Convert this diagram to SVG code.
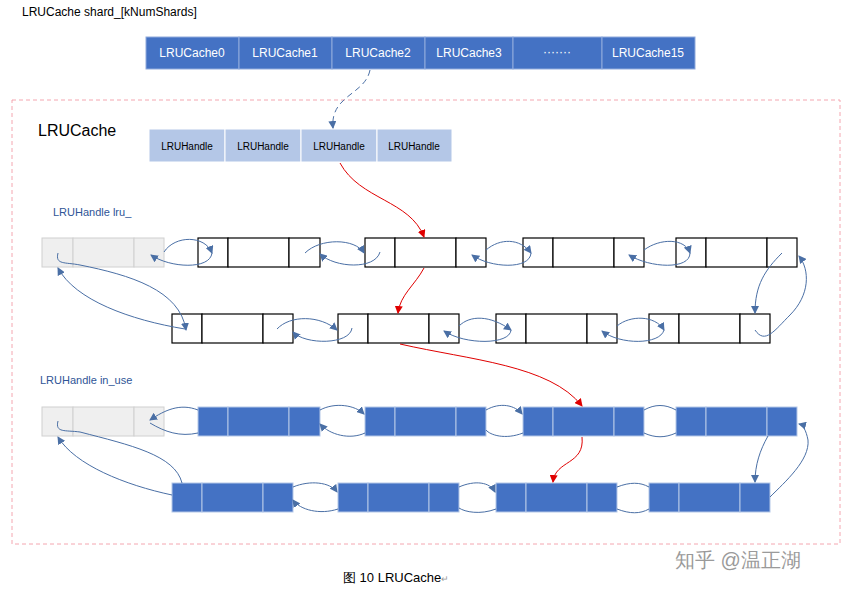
<svg xmlns="http://www.w3.org/2000/svg" width="854" height="593" viewBox="0 0 854 593">
<style>
text{font-family:"Liberation Sans",Arial,sans-serif}
.top{fill:#4472c4;stroke:#8faadc;stroke-width:1}
.tt{fill:#fff;font-size:12px;text-anchor:middle}
.h{fill:#b4c7e7;stroke:#fff}
.ht{fill:#000;font-size:10px;text-anchor:middle}
.g{fill:#efefef;stroke:#d0d0d0}
.w{fill:#fff;stroke:#000;stroke-width:1.2}
.b{fill:#4472c4;stroke:#b4c7e7;stroke-width:1}
.c{fill:none;stroke:#4a6fa5;stroke-width:1}
.r{fill:none;stroke:#e00000;stroke-width:1}
.lbl{fill:#2f5597;font-size:11px}
</style>
<defs>
<marker id="ab" markerWidth="8" markerHeight="8" refX="7" refY="4" orient="auto" markerUnits="userSpaceOnUse"><path d="M0,0L8,4L0,8z" fill="#4a6fa5"/></marker>
<marker id="ar" markerWidth="8" markerHeight="8" refX="7" refY="4" orient="auto" markerUnits="userSpaceOnUse"><path d="M0,0L8,4L0,8z" fill="#e00000"/></marker>
</defs>
<rect width="854" height="593" fill="#fff"/>
<text x="22" y="16" font-size="12">LRUCache shard_[kNumShards]</text>
<g id="shards">
<rect class="top" x="146" y="37" width="93" height="32"/><text class="tt" x="192" y="57">LRUCache0</text>
<rect class="top" x="239" y="37" width="93" height="32"/><text class="tt" x="285" y="57">LRUCache1</text>
<rect class="top" x="332" y="37" width="93" height="32"/><text class="tt" x="378" y="57">LRUCache2</text>
<rect class="top" x="425" y="37" width="88" height="32"/><text class="tt" x="469" y="57">LRUCache3</text>
<rect class="top" x="513" y="37" width="89" height="32"/><text class="tt" x="557" y="56">·······</text>
<rect class="top" x="602" y="37" width="93" height="32"/><text class="tt" x="648" y="57">LRUCache15</text>
</g>
<rect x="12" y="100" width="828" height="444" fill="none" stroke="#f4a6b0" stroke-dasharray="4,3"/>
<text x="38" y="136" font-size="16">LRUCache</text>
<g id="handles">
<rect class="h" x="149" y="129" width="76" height="33"/><text class="ht" x="187" y="150">LRUHandle</text>
<rect class="h" x="225" y="129" width="76" height="33"/><text class="ht" x="263" y="150">LRUHandle</text>
<rect class="h" x="301" y="129" width="76" height="33"/><text class="ht" x="339" y="150">LRUHandle</text>
<rect class="h" x="377" y="129" width="75" height="33"/><text class="ht" x="414" y="150">LRUHandle</text>
</g>
<text class="lbl" x="53" y="216">LRUHandle lru_</text>
<text class="lbl" x="40" y="384">LRUHandle in_use</text>
<g id="row1">
<rect class="g" x="42" y="238" width="31" height="29"/><rect class="g" x="73" y="238" width="61" height="29"/><rect class="g" x="134" y="238" width="30" height="29"/>
<g class="w"><rect x="198" y="238" width="30" height="29"/><rect x="228" y="238" width="61" height="29"/><rect x="289" y="238" width="31" height="29"/>
<rect x="365" y="238" width="30" height="29"/><rect x="395" y="238" width="61" height="29"/><rect x="456" y="238" width="30" height="29"/>
<rect x="523" y="238" width="30" height="29"/><rect x="553" y="238" width="61" height="29"/><rect x="614" y="238" width="30" height="29"/>
<rect x="676" y="238" width="30" height="29"/><rect x="706" y="238" width="61" height="29"/><rect x="767" y="238" width="30" height="29"/></g>
</g>
<g id="row2" class="w">
<rect x="172" y="314" width="30" height="29"/><rect x="202" y="314" width="61" height="29"/><rect x="263" y="314" width="30" height="29"/>
<rect x="338" y="314" width="30" height="29"/><rect x="368" y="314" width="61" height="29"/><rect x="429" y="314" width="30" height="29"/>
<rect x="496" y="314" width="30" height="29"/><rect x="526" y="314" width="61" height="29"/><rect x="587" y="314" width="30" height="29"/>
<rect x="649" y="314" width="30" height="29"/><rect x="679" y="314" width="61" height="29"/><rect x="740" y="314" width="30" height="29"/>
</g>
<g id="row3">
<rect class="g" x="42" y="407" width="31" height="29"/><rect class="g" x="73" y="407" width="61" height="29"/><rect class="g" x="134" y="407" width="30" height="29"/>
<g class="b"><rect x="198" y="407" width="30" height="29"/><rect x="228" y="407" width="61" height="29"/><rect x="289" y="407" width="31" height="29"/>
<rect x="365" y="407" width="30" height="29"/><rect x="395" y="407" width="61" height="29"/><rect x="456" y="407" width="30" height="29"/>
<rect x="523" y="407" width="30" height="29"/><rect x="553" y="407" width="61" height="29"/><rect x="614" y="407" width="30" height="29"/>
<rect x="676" y="407" width="30" height="29"/><rect x="706" y="407" width="61" height="29"/><rect x="767" y="407" width="30" height="29"/></g>
</g>
<g id="row4" class="b">
<rect x="172" y="483" width="30" height="29"/><rect x="202" y="483" width="61" height="29"/><rect x="263" y="483" width="30" height="29"/>
<rect x="338" y="483" width="30" height="29"/><rect x="368" y="483" width="61" height="29"/><rect x="429" y="483" width="30" height="29"/>
<rect x="496" y="483" width="30" height="29"/><rect x="526" y="483" width="61" height="29"/><rect x="587" y="483" width="30" height="29"/>
<rect x="649" y="483" width="30" height="29"/><rect x="679" y="483" width="61" height="29"/><rect x="740" y="483" width="30" height="29"/>
</g>
<g id="connectors">
<path class="c" d="M370,70 C365,95 330,95 333,128" stroke-dasharray="6,4" marker-end="url(#ab)"/>
<path class="r" d="M340,163 C360,200 410,200 424,237" marker-end="url(#ar)"/>
<path class="r" d="M424,268 C415,285 400,295 398,313" marker-end="url(#ar)"/>
<path class="r" d="M400,344 C470,360 550,365 582,406" marker-end="url(#ar)"/>
<path class="r" d="M582,437 C585,465 555,460 553,482" marker-end="url(#ar)"/>
<!-- row1 links -->
<path class="c" d="M164,252 C175,235 205,235 212,253" marker-end="url(#ab)"/>
<path class="c" d="M212,253 C210,270 170,268 151,255" marker-end="url(#ab)"/>
<path class="c" d="M305,253 C320,238 355,238 364,253" marker-end="url(#ab)"/>
<path class="c" d="M380,252 C375,270 335,268 320,254" marker-end="url(#ab)"/>
<path class="c" d="M486,250 C500,238 520,238 531,253" marker-end="url(#ab)"/>
<path class="c" d="M531,253 C530,270 490,268 472,255" marker-end="url(#ab)"/>
<path class="c" d="M644,250 C660,238 685,238 690,253" marker-end="url(#ab)"/>
<path class="c" d="M690,253 C690,270 650,268 629,255" marker-end="url(#ab)"/>
<!-- row2 links -->
<path class="c" d="M277,329 C290,315 320,315 337,330" marker-end="url(#ab)"/>
<path class="c" d="M352,328 C350,345 305,345 293,332" marker-end="url(#ab)"/>
<path class="c" d="M459,326 C470,315 490,315 511,330" marker-end="url(#ab)"/>
<path class="c" d="M511,330 C510,345 465,345 444,331" marker-end="url(#ab)"/>
<path class="c" d="M617,326 C630,315 655,315 664,330" marker-end="url(#ab)"/>
<path class="c" d="M664,330 C660,345 620,345 602,331" marker-end="url(#ab)"/>
<!-- row1/row2 ends -->
<path class="c" d="M782,253 C765,270 755,285 755,313" marker-end="url(#ab)"/>
<path class="c" d="M755,330 C765,345 775,330 790,315 C810,295 810,270 799,256" marker-end="url(#ab)"/>
<path class="c" d="M58,253 C55,265 65,262 80,265 C130,275 180,290 186,330" marker-end="url(#ab)"/>
<path class="c" d="M185,329 C130,320 75,300 58,268" marker-end="url(#ab)"/>
<!-- row3 links -->
<path class="c" d="M198,410 C180,403 165,410 150,420" marker-end="url(#ab)"/>
<path class="c" d="M198,433 C180,437 165,432 150,423" />
<path class="c" d="M320,410 C335,402 355,405 364,414" marker-end="url(#ab)"/>
<path class="c" d="M365,433 C350,440 330,435 320,424" marker-end="url(#ab)"/>
<path class="c" d="M486,410 C500,402 515,405 522,414" marker-end="url(#ab)"/>
<path class="c" d="M523,433 C505,440 490,435 486,430"/>
<path class="c" d="M644,410 C655,404 665,404 676,410"/>
<path class="c" d="M644,433 C655,438 665,438 676,433"/>
<!-- row4 links -->
<path class="c" d="M293,487 C310,480 330,482 337,492" marker-end="url(#ab)"/>
<path class="c" d="M338,509 C320,515 300,510 293,500" marker-end="url(#ab)"/>
<path class="c" d="M459,487 C475,480 490,482 495,492" marker-end="url(#ab)"/>
<path class="c" d="M496,509 C480,515 465,512 459,508"/>
<path class="c" d="M617,487 C630,482 640,482 649,487"/>
<path class="c" d="M617,509 C630,514 640,514 649,509"/>
<!-- row3/row4 ends -->
<path class="c" d="M768,436 C760,450 755,465 755,482" marker-end="url(#ab)"/>
<path class="c" d="M770,497 C785,482 810,460 808,440 C806,430 803,425 799,424" marker-end="url(#ab)"/>
<path class="c" d="M58,421 C55,433 65,430 80,432 C130,445 175,455 182,483"/>
<path class="c" d="M172,495 C125,485 75,465 58,437" marker-end="url(#ab)"/>
</g>
<text x="343" y="582" font-size="13" font-family="'Liberation Mono','Noto Sans CJK SC',monospace">图 10 LRUCache<tspan fill="#999" font-size="9">↵</tspan></text>
<text x="675" y="567" font-size="20" fill="#9a9a9a" font-family="'Noto Sans CJK SC',sans-serif">知乎 @温正湖</text>
</svg>
